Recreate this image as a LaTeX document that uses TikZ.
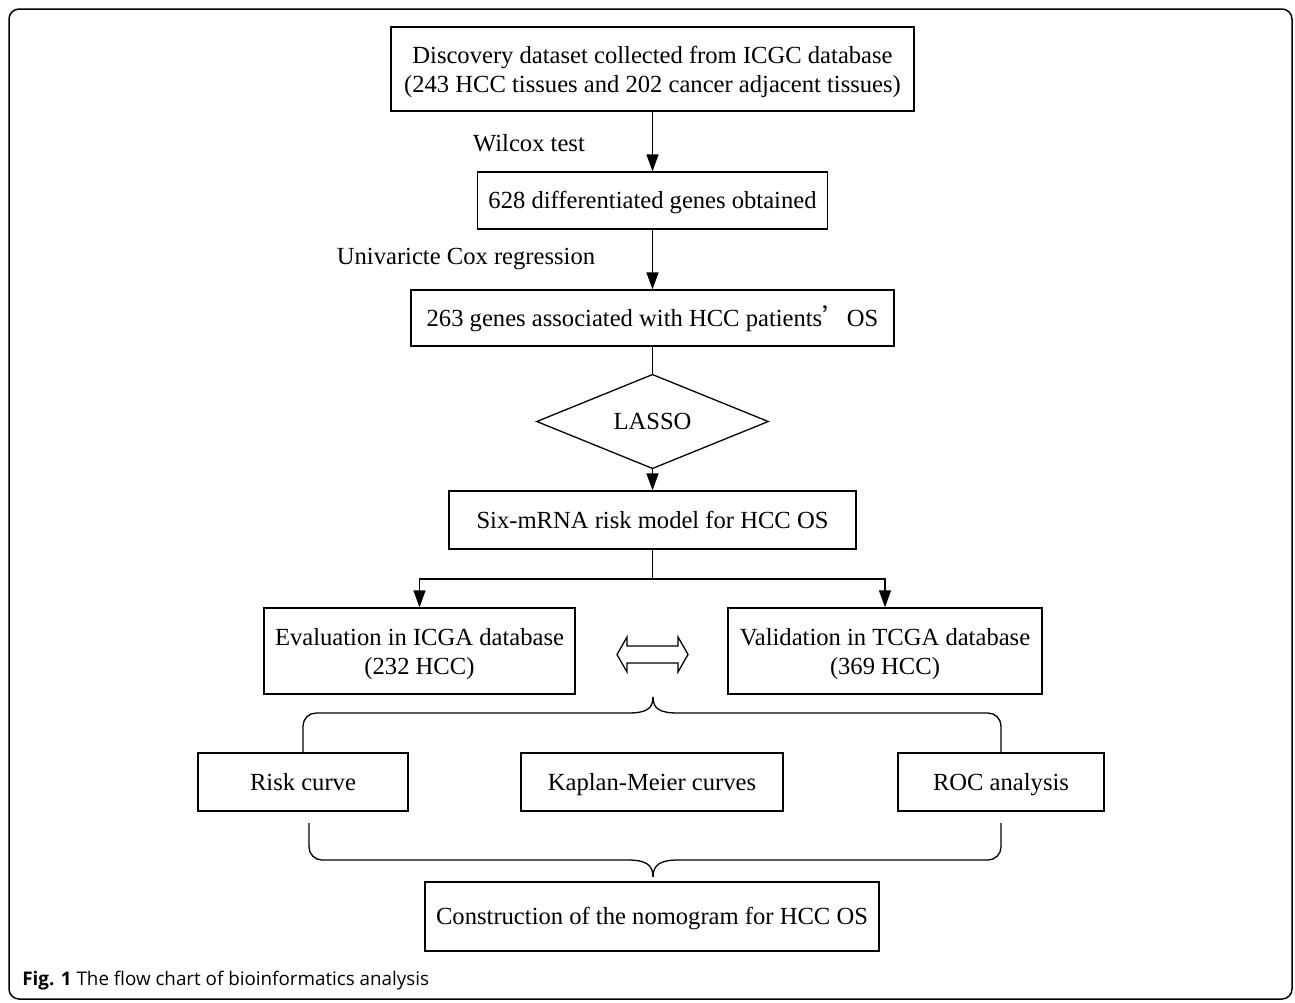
\documentclass[tikz,border=0pt]{standalone}
\usepackage{fontspec}
\setmainfont{Liberation Serif}
\newfontfamily\capfont{Open Sans}
\newfontfamily\cjkfont{Noto Sans CJK SC}
\usetikzlibrary{arrows.meta,shapes.geometric}
\newcommand{\fsmain}{\fontsize{12.3pt}{14.5pt}\selectfont}
\newcommand{\mystrut}{\rule[-0.22em]{0pt}{1.1em}}
\begin{document}
\begin{tikzpicture}[x=0.5pt,y=-0.5pt,
  bx/.style 2 args={draw, line width=0.65pt, inner sep=0pt, align=center, font=\fsmain,
     minimum width=#1*0.5pt, minimum height=#2*0.5pt, execute at begin node=\mystrut},
  twoline/.style={text depth=-0.5pt},
  arr/.style={-{Triangle[length=8.5pt,width=6pt]}, line width=0.65pt},
  ln/.style={line width=0.65pt},
  lbl/.style={font=\fsmain, inner sep=0pt},
  brace/.style={line width=0.65pt, rounded corners=6.5pt}]
\useasboundingbox (0,0) rectangle (1295,1002);
\draw[line width=0.75pt, rounded corners=5pt] (9,9) rectangle (1292,999);

\node[bx={523}{84}, twoline] (b1) at (652.5,69) {Discovery dataset collected from ICGC database\\(243 HCC tissues and 202 cancer adjacent tissues)};
\node[bx={350}{57}] (b2) at (652.5,200.5) {628 differentiated genes obtained};
\node[bx={483}{56}] (b3) at (652.5,318) {263 genes associated with HCC patients{\cjkfont ’}OS};
\node[draw, line width=0.65pt, diamond, inner sep=0pt, minimum width=116pt, minimum height=43.5pt, font=\fsmain] (dia) at (652.5,421.5) {LASSO};
\node[bx={407}{58}] (b4) at (652.5,520) {Six-mRNA risk model for HCC OS};
\node[bx={311}{86}, twoline] (b5) at (419.5,651) {Evaluation in ICGA database\\(232 HCC)};
\node[bx={314}{86}, twoline] (b6) at (885,651) {Validation in TCGA database\\(369 HCC)};
\node[bx={210}{58}] (b7) at (303,782) {Risk curve};
\node[bx={262}{58}] (b8) at (652,782) {Kaplan-Meier curves};
\node[bx={206}{58}] (b9) at (1001,782) {ROC analysis};
\node[bx={454}{69}] (b10) at (652,916.5) {Construction of the nomogram for HCC OS};

\node[lbl] (wil) at (529,143) {Wilcox test};
\node[lbl] (uni) at (466,259) {Univaricte Cox regression};

\draw[arr] (b1) -- (b2);
\draw[arr] (b2) -- (b3);
\draw[ln] (b3) -- (dia);
\draw[arr] (dia) -- (b4);
\coordinate (split) at (652.5,579);
\draw[ln] (b4.south) -- (split);
\draw[arr] (split) -| (b5.north);
\draw[arr] (split) -| (b6.north);

% double arrow
\draw[line width=0.65pt, line join=miter] (617,654.5) -- (627,637) -- (627,646) -- (678,646) -- (678,637) -- (688,654.5)
  -- (678,672) -- (678,663) -- (627,663) -- (627,672) -- cycle;

% upper brace
\coordinate (ub) at (653,697);
\draw[brace] (b7.north) -- (303,713) -- (628,713);
\draw[ln] (628,713) .. controls (646,713) and (653,709) .. (ub);
\draw[ln] (ub) .. controls (653,709) and (660,713) .. (678,713);
\draw[brace] (678,713) -- (1001,713) -- (b9.north);

% lower brace
\coordinate (lb) at (653,877);
\draw[brace] (309,823) -- (309,860) -- (628,860);
\draw[ln] (628,860) .. controls (646,860) and (653,865) .. (lb);
\draw[ln] (lb) .. controls (653,865) and (660,860) .. (678,860);
\draw[brace] (678,860) -- (1001,860) -- (1001,823);

\node[anchor=base west, inner sep=0pt, font=\capfont\fontsize{9.4pt}{11pt}\selectfont] (cap) at (22,985) {\textbf{Fig. 1} The flow chart of bioinformatics analysis};
\end{tikzpicture}
\end{document}
